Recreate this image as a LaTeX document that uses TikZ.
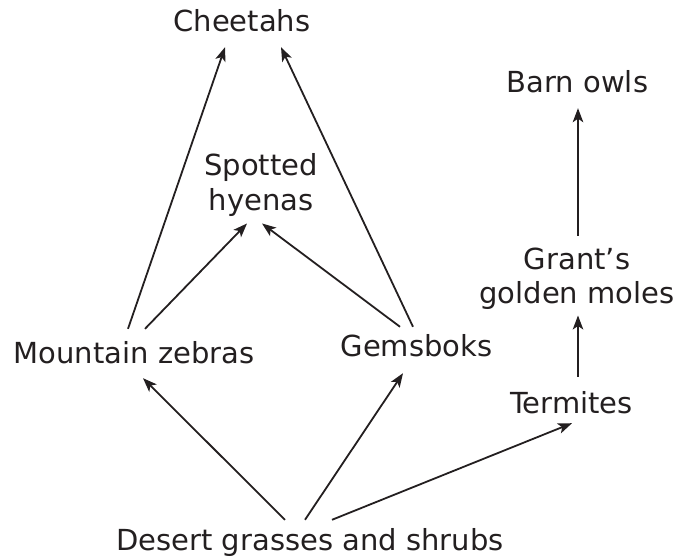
\documentclass[tikz,border=0pt]{standalone}
\usepackage{fontspec}
\setmainfont{DejaVu Sans}
\usetikzlibrary{arrows.meta}
\definecolor{ink}{HTML}{231F20}
\begin{document}
\begin{tikzpicture}[x=1pt,y=-1pt,
  lbl/.style={font=\fontsize{29}{34.5}\selectfont, text=ink, inner sep=0pt, text height=22pt, text depth=7pt, anchor=base},
  lbltwo/.style={font=\fontsize{29}{34.5}\selectfont, text=ink, inner sep=0pt, align=center},
  arr/.style={draw=ink, line width=1.8pt, -{Stealth[length=14pt,width=10.5pt,inset=3.5pt]}}]
\useasboundingbox (0,0) rectangle (675,559);
\node[lbl] (ch) at (242,32) {Cheetahs};
\node[lbl] (bo) at (577.5,93) {Barn owls};
\node[lbltwo] (sh) at (261,185) {Spotted\\hyenas};
\node[lbltwo] (gm) at (577,278.75) {Grant’s\\golden moles};
\node[lbl] (mz) at (134,363) {Mountain zebras};
\node[lbl] (gb) at (416.5,356) {Gemsboks};
\node[lbl] (tm) at (571.5,413) {Termites};
\node[lbl] (ds) at (310,550) {Desert grasses and shrubs};

\draw[arr] ([shift={(-6,-12)}]mz.north) -- ([shift={(-17,8)}]ch.south);
\draw[arr] ([shift={(-3.5,-7)}]gb.north) -- ([shift={(39,8)}]ch.south);
\draw[arr] ([shift={(11,-12)}]mz.north) -- ([shift={(-14,7)}]sh.south);
\draw[arr] ([shift={(-16.5,-7)}]gb.north) -- ([shift={(1,7)}]sh.south);
\draw[arr] ([shift={(-25,-8)}]ds.north) -- ([shift={(9,8)}]mz.south);
\draw[arr] ([shift={(-5,-8)}]ds.north) -- ([shift={(-13.5,10)}]gb.south);
\draw[arr] ([shift={(22,-8)}]ds.north) -- ([shift={(0.5,3)}]tm.south);
\draw[arr] ([shift={(6.5,-14)}]tm.north) -- ([shift={(1,5.5)}]gm.south);
\draw[arr] ([shift={(1,-12)}]gm.north) -- ([shift={(0.5,8)}]bo.south);
\end{tikzpicture}
\end{document}
